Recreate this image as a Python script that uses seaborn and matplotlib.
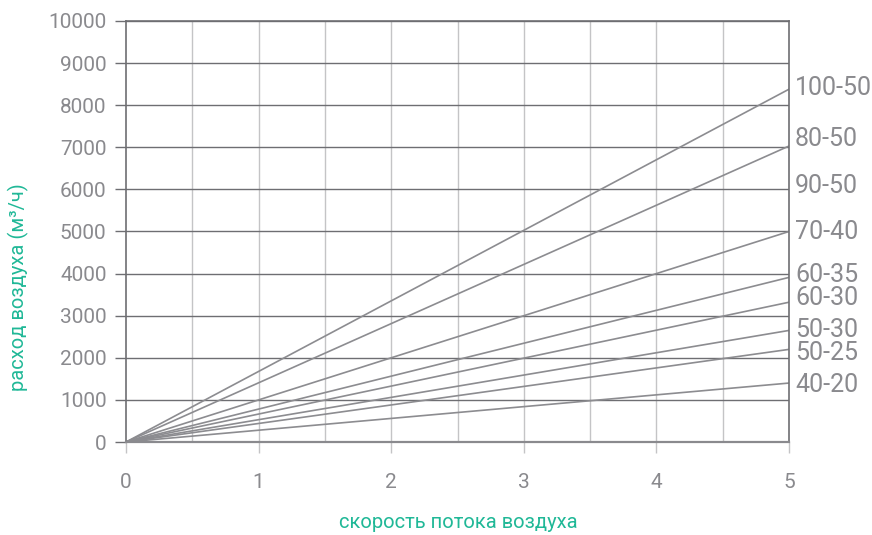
import matplotlib
matplotlib.use("Agg")
import matplotlib.pyplot as plt
import seaborn as sns
import pandas as pd

# Data
duct_sizes = ["100-50", "80-50", "70-40", "60-35", "60-30", "50-30", "50-25", "40-20"]
flow_at_5 = [8380, 7030, 5000, 3910, 3320, 2650, 2200, 1400]
speed = [0, 5]
label_names = ["100-50", "80-50", "90-50", "70-40", "60-35", "60-30", "50-30", "50-25", "40-20"]
label_y = [8410, 7200, 6080, 4990, 3970, 3420, 2660, 2110, 1350]
x_ticks = [0, 1, 2, 3, 4, 5]
y_ticks = list(range(0, 10001, 1000))

rows = []
for name, v in zip(duct_sizes, flow_at_5):
    rows.append({"size": name, "speed": speed[0], "flow": 0})
    rows.append({"size": name, "speed": speed[1], "flow": v})
df = pd.DataFrame(rows)

sns.set_style("white")
plt.rcParams["font.family"] = ["Roboto", "DejaVu Sans"]

fig = plt.figure(figsize=(8.72, 5.35), dpi=100)
ax = fig.add_axes([126 / 872, 1 - 442 / 535, (789 - 126) / 872, (442 - 21) / 535])

TXT = "#8a8a8e"
GREEN = "#20b897"

# grid
for xv in [0.5 * i for i in range(1, 10)]:
    ax.axvline(xv, color="#c4c4c6", lw=1.0, zorder=0)
for yv in y_ticks[1:]:
    ax.axhline(yv, color="#6e6e72", lw=1.0, zorder=0)

sns.lineplot(data=df, x="speed", y="flow", hue="size",
             palette=["#8c8c90"] * len(duct_sizes), legend=False,
             lw=1.2, ax=ax, zorder=2)

ax.set_xlim(0, 5)
ax.set_ylim(0, 10000)
ax.set_xticks(x_ticks)
ax.set_yticks(y_ticks)
ax.set_xticklabels([str(t) for t in x_ticks])
ax.set_yticklabels([str(t) for t in y_ticks])
ax.tick_params(axis="y", length=8, width=1, color="#6e6e72", labelsize=15,
               labelcolor=TXT, pad=6, left=True)
ax.tick_params(axis="x", length=8, width=1, color="#c4c4c6", labelsize=15,
               labelcolor=TXT, pad=14, bottom=True)

for side in ["left", "bottom", "right", "top"]:
    ax.spines[side].set_visible(True)
    ax.spines[side].set_linewidth(1.2)
    ax.spines[side].set_color("#6e6e72")
ax.spines["bottom"].set_color("#8a8a8e")
ax.spines["bottom"].set_linewidth(1.6)

ax.set_xlabel("")
ax.set_ylabel("")
fig.text(458 / 872, 1 - 523 / 535, "скорость потока воздуха", color=GREEN,
         fontsize=14.5, ha="center", va="center")
fig.text(18 / 872, 1 - 287 / 535, "расход воздуха (м³/ч)", color=GREEN,
         fontsize=14.5, ha="center", va="center", rotation=90)

for name, yv in zip(label_names, label_y):
    ax.text(5.045, yv, name, color=TXT, fontsize=18, va="center", ha="left",
            clip_on=False)

fig.savefig("out.png", dpi=100)
